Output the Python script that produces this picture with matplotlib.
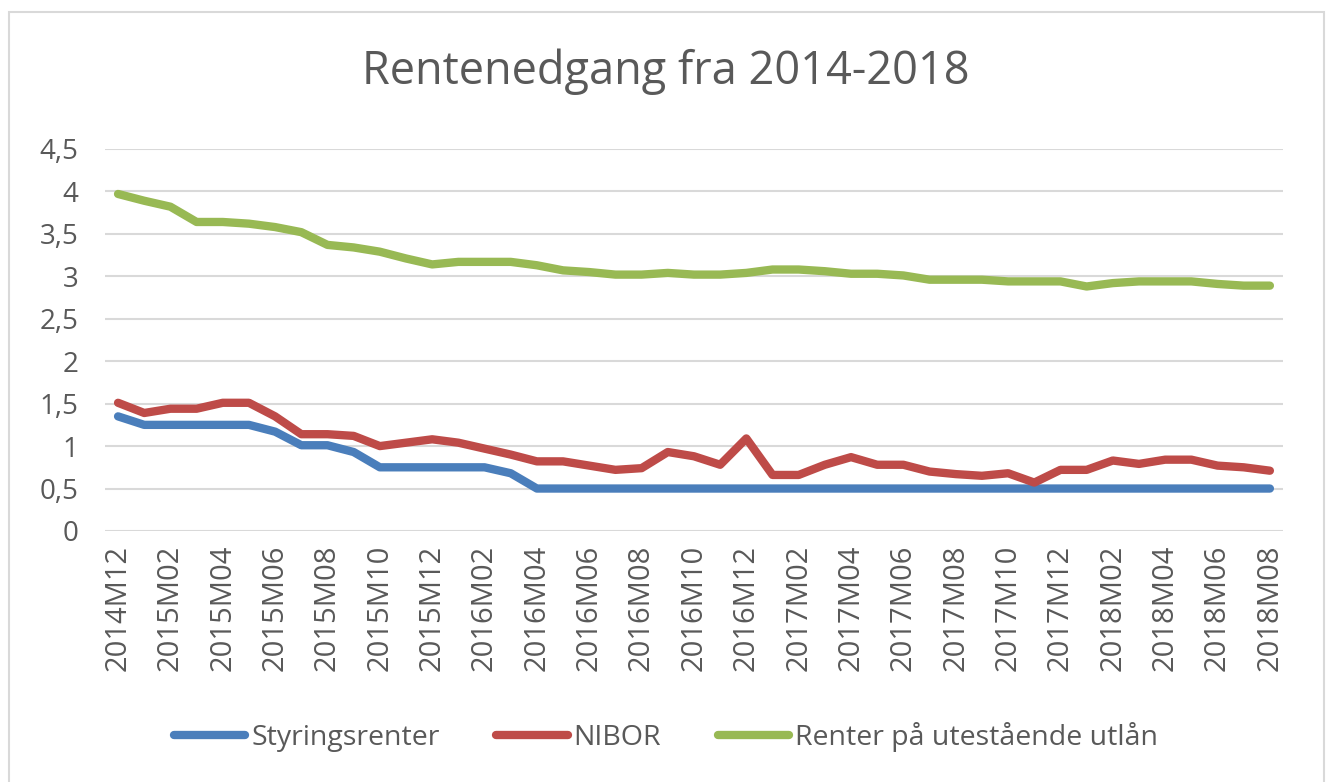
import matplotlib
matplotlib.use("Agg")
import matplotlib.pyplot as plt
from matplotlib.patches import Rectangle

plt.rcParams["font.family"] = ["Open Sans", "DejaVu Sans"]

# Maanedlige data 2014M12 - 2018M08
months = []
for y in range(2014, 2019):
    for m in range(1, 13):
        if (y == 2014 and m < 12) or (y == 2018 and m > 8):
            continue
        months.append("%dM%02d" % (y, m))

styringsrenter = [1.35, 1.25, 1.25, 1.25, 1.25, 1.25, 1.17, 1.01, 1.01, 0.93,
                  0.75, 0.75, 0.75, 0.75, 0.75, 0.68, 0.50, 0.50, 0.50, 0.50,
                  0.50, 0.50, 0.50, 0.50, 0.50, 0.50, 0.50, 0.50, 0.50, 0.50,
                  0.50, 0.50, 0.50, 0.50, 0.50, 0.50, 0.50, 0.50, 0.50, 0.50,
                  0.50, 0.50, 0.50, 0.50, 0.50]
nibor = [1.51, 1.39, 1.44, 1.44, 1.51, 1.51, 1.35, 1.14, 1.14, 1.12,
         1.00, 1.04, 1.08, 1.04, 0.97, 0.90, 0.82, 0.82, 0.77, 0.72,
         0.74, 0.93, 0.88, 0.78, 1.09, 0.66, 0.66, 0.78, 0.87, 0.78,
         0.78, 0.70, 0.67, 0.65, 0.68, 0.57, 0.72, 0.72, 0.83, 0.79,
         0.84, 0.84, 0.77, 0.75, 0.71]
utlan = [3.97, 3.89, 3.82, 3.64, 3.64, 3.62, 3.58, 3.52, 3.37, 3.34,
         3.29, 3.21, 3.14, 3.17, 3.17, 3.17, 3.13, 3.07, 3.05, 3.02,
         3.02, 3.04, 3.02, 3.02, 3.04, 3.08, 3.08, 3.06, 3.03, 3.03,
         3.01, 2.96, 2.96, 2.96, 2.94, 2.94, 2.94, 2.88, 2.92, 2.94,
         2.94, 2.94, 2.91, 2.89, 2.89]

yticks = [0, 0.5, 1, 1.5, 2, 2.5, 3, 3.5, 4, 4.5]
ytick_labels = ["0", "0,5", "1", "1,5", "2", "2,5", "3", "3,5", "4", "4,5"]

txt = "#595959"
fig = plt.figure(figsize=(13.32, 7.82), dpi=100)
ax = fig.add_axes([0.0788, 0.321, 0.8844, 0.4885])

x = list(range(len(months)))
ax.plot(x, styringsrenter, color="#4A7EBB", lw=6, solid_capstyle="round",
        solid_joinstyle="round", label="Styringsrenter", zorder=3)
ax.plot(x, nibor, color="#BE4B48", lw=6, solid_capstyle="round",
        solid_joinstyle="round", label="NIBOR", zorder=3)
ax.plot(x, utlan, color="#98B954", lw=6, solid_capstyle="round",
        solid_joinstyle="round", label="Renter på utestående utlån", zorder=3)

ax.set_xlim(-0.5, len(months) - 0.5)
ax.set_ylim(0, 4.5)
ax.set_yticks(yticks)
ax.set_yticklabels(ytick_labels)
ax.set_xticks(x[::2])
ax.set_xticklabels(months[::2], rotation=90)
ax.grid(axis="y", color="#D9D9D9", lw=1.5)
ax.set_axisbelow(True)
for s in ax.spines.values():
    s.set_visible(False)
ax.tick_params(axis="y", length=0, pad=19, labelsize=20, labelcolor=txt)
ax.tick_params(axis="x", length=0, pad=10, labelsize=21, labelcolor=txt)

fig.text(0.5, 0.908, "Rentenedgang fra 2014-2018", ha="center", va="center",
         fontsize=32.5, color=txt)

fig.legend(loc="center", bbox_to_anchor=(0.5, 0.0575), ncol=3, frameon=False,
           fontsize=20.5, labelcolor=txt, handlelength=2.5, handletextpad=0.2,
           columnspacing=2.0)

fig.patches.append(Rectangle((9 / 1332, -0.02), 1315 / 1332, 1.0 - 12 / 782 + 0.02,
                             transform=fig.transFigure, fill=False,
                             edgecolor="#D9D9D9", lw=1.5))

fig.savefig("out.png", dpi=100)
